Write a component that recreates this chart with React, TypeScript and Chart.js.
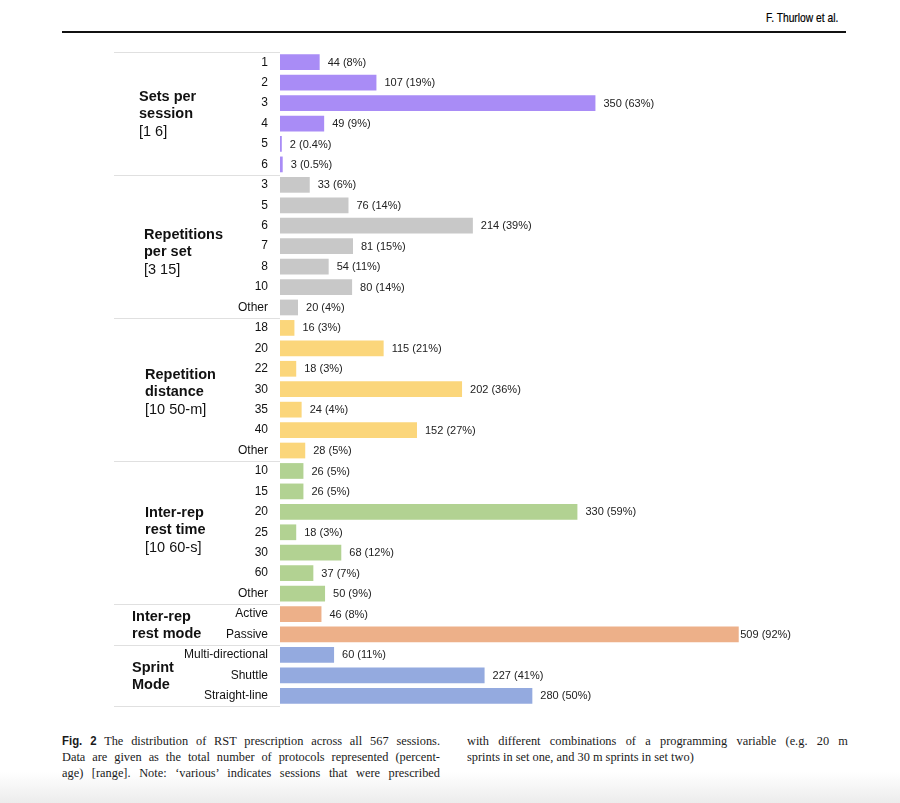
import React, { useEffect, useRef } from "react";
import { Chart, registerables } from "chart.js";

Chart.register(...registerables);

// ---------- data ----------
const groupTitles: string[][] = [
  ["Sets per", "session"],
  ["Repetitions", "per set"],
  ["Repetition", "distance"],
  ["Inter-rep", "rest time"],
  ["Inter-rep", "rest mode"],
  ["Sprint", "Mode"],
];
const groupRanges = ["[1 6]", "[3 15]", "[10 50-m]", "[10 60-s]", "", ""];

const setsLabels = ["1", "2", "3", "4", "5", "6"];
const setsValues = [44, 107, 350, 49, 2, 3];
const setsPct = ["8%", "19%", "63%", "9%", "0.4%", "0.5%"];

const repsLabels = ["3", "5", "6", "7", "8", "10", "Other"];
const repsValues = [33, 76, 214, 81, 54, 80, 20];
const repsPct = ["6%", "14%", "39%", "15%", "11%", "14%", "4%"];

const distLabels = ["18", "20", "22", "30", "35", "40", "Other"];
const distValues = [16, 115, 18, 202, 24, 152, 28];
const distPct = ["3%", "21%", "3%", "36%", "4%", "27%", "5%"];

const restLabels = ["10", "15", "20", "25", "30", "60", "Other"];
const restValues = [26, 26, 330, 18, 68, 37, 50];
const restPct = ["5%", "5%", "59%", "3%", "12%", "7%", "9%"];

const modeLabels = ["Active", "Passive"];
const modeValues = [46, 509];
const modePct = ["8%", "92%"];

const sprintLabels = ["Multi-directional", "Shuttle", "Straight-line"];
const sprintValues = [60, 227, 280];
const sprintPct = ["11%", "41%", "50%"];

const totalSessions = 567;

const groupColors = ["#a98cf6", "#c8c8c8", "#fbd67b", "#b2d292", "#edb089", "#94aadf"];

// ---------- derived ----------
const groupLabelSets = [setsLabels, repsLabels, distLabels, restLabels, modeLabels, sprintLabels];
const groupValueSets = [setsValues, repsValues, distValues, restValues, modeValues, sprintValues];
const groupPctSets = [setsPct, repsPct, distPct, restPct, modePct, sprintPct];
const groupSizes = groupLabelSets.map((g) => g.length);

const allLabels = groupLabelSets.flat();
const allValues = groupValueSets.flat();
const allPct = groupPctSets.flat();
const allColors = groupLabelSets.flatMap((g, gi) => g.map(() => groupColors[gi]));

// layout of group titles
const groupLabelX = [139, 144, 145, 145, 132, 132];
const groupLabelDy = [1, 6, 3, -2, 1, 1];

const FONT = "'Liberation Sans', Arial, sans-serif";

const valueLabelPlugin = {
  id: "valueLabels",
  afterDatasetsDraw(chart: any) {
    const ctx = chart.ctx;
    const area = chart.chartArea;
    const meta = chart.getDatasetMeta(0);
    ctx.save();
    ctx.font = `11px ${FONT}`;
    ctx.fillStyle = "#222";
    ctx.textBaseline = "middle";
    ctx.textAlign = "left";
    meta.data.forEach((bar: any, i: number) => {
      const txt = `${allValues[i]} (${allPct[i]})`;
      const w = ctx.measureText(txt).width;
      let x = bar.x + 8;
      if (x + w > area.right) x = Math.max(bar.x + 1.5, area.right - w);
      ctx.fillText(txt, x, bar.y + 0.5);
    });
    ctx.restore();
  },
};

const groupPlugin = {
  id: "groupLabels",
  afterDraw(chart: any) {
    const ctx = chart.ctx;
    const area = chart.chartArea;
    const y = chart.scales.y;
    const half = (y.getPixelForValue(1) - y.getPixelForValue(0)) / 2;
    ctx.save();
    // separators
    ctx.strokeStyle = "#e0e0e0";
    ctx.lineWidth = 1;
    const bounds: number[] = [y.getPixelForValue(0) - half];
    let idx = 0;
    groupSizes.forEach((n) => {
      idx += n;
      bounds.push(y.getPixelForValue(idx - 1) + half);
    });
    bounds.forEach((b) => {
      const yy = Math.round(b) + 0.5;
      ctx.beginPath();
      ctx.moveTo(114, yy);
      ctx.lineTo(area.left, yy);
      ctx.stroke();
    });
    // group titles
    const lh = 17.5;
    let start = 0;
    groupTitles.forEach((lines, gi) => {
      const n = groupSizes[gi];
      const yTop = y.getPixelForValue(start);
      const yBot = y.getPixelForValue(start + n - 1);
      start += n;
      const all = groupRanges[gi] ? [...lines, groupRanges[gi]] : lines;
      const center = (yTop + yBot) / 2 + groupLabelDy[gi];
      const first = center - ((all.length - 1) * lh) / 2;
      ctx.fillStyle = "#111";
      ctx.textBaseline = "middle";
      ctx.textAlign = "left";
      all.forEach((t, li) => {
        const bold = li < lines.length;
        ctx.font = `${bold ? "bold " : ""}14.5px ${FONT}`;
        ctx.fillText(t, groupLabelX[gi], first + li * lh);
      });
    });
    ctx.restore();
  },
};

function BarChart() {
  const ref = useRef<HTMLCanvasElement | null>(null);
  useEffect(() => {
    if (!ref.current) return;
    const chart = new Chart(ref.current, {
      type: "bar",
      data: {
        labels: allLabels,
        datasets: [
          {
            data: allValues,
            backgroundColor: allColors,
            borderWidth: 0,
            categoryPercentage: 1,
            barPercentage: 0.77,
          },
        ],
      },
      options: {
        indexAxis: "y",
        animation: false,
        responsive: false,
        events: [],
        layout: { padding: { left: 0, right: 109, top: 52, bottom: 24 } },
        scales: {
          x: { display: false, min: 0, max: totalSessions },
          y: {
            grid: { display: false, drawTicks: false },
            border: { display: false },
            ticks: {
              autoSkip: false,
              padding: 12,
              color: "#111",
              font: { family: FONT, size: 12 },
            },
            afterFit(scale: any) {
              scale.width = 280;
            },
          },
        },
        plugins: {
          legend: { display: false },
          tooltip: { enabled: false },
        },
      } as any,
      plugins: [valueLabelPlugin, groupPlugin],
    });
    return () => chart.destroy();
  }, []);
  return (
    <canvas
      ref={ref}
      width={900}
      height={730}
      style={{ position: "absolute", left: 0, top: 0, width: 900, height: 730 }}
    />
  );
}

const serif = "'Liberation Serif', 'Times New Roman', serif";

const lineJ: React.CSSProperties = {
  textAlign: "justify",
  textAlignLast: "justify" as any,
  height: 16,
  whiteSpace: "nowrap",
};

const SCALE = 0.95;
const captionBox = (left: number, w: number): React.CSSProperties => ({
  position: "absolute",
  left,
  top: 733,
  width: w / SCALE,
  fontFamily: serif,
  fontSize: 13,
  lineHeight: "16px",
  transform: `scaleX(${SCALE})`,
  transformOrigin: "0 0",
  color: "#1a1a1a",
});

export default function App() {
  return (
    <div
      style={{
        position: "absolute",
        left: 0,
        top: 0,
        width: 900,
        height: 803,
        background: "#fff",
        overflow: "hidden",
      }}
    >
      <div
        style={{
          position: "absolute",
          left: 0,
          top: 772,
          width: 900,
          height: 31,
          background: "linear-gradient(to bottom, #ffffff, #ececec)",
        }}
      />
      <div
        style={{
          position: "absolute",
          left: 766,
          top: 10,
          fontFamily: FONT,
          fontSize: 13,
          color: "#000",
          whiteSpace: "nowrap",
          transform: "scaleX(0.79)",
          transformOrigin: "0 0",
          WebkitTextStroke: "0.2px #000",
        }}
      >
        F. Thurlow et al.
      </div>
      <div style={{ position: "absolute", left: 62, top: 31, width: 784, height: 2, background: "#111" }} />
      <BarChart />
      <div style={captionBox(62, 378)}>
        <div style={lineJ}>
          <span style={{ fontFamily: FONT, fontWeight: "bold", fontSize: 12 }}>Fig. 2</span> The distribution of
          RST prescription across all 567 sessions.
        </div>
        <div style={lineJ}>Data are given as the total number of protocols represented (percent-</div>
        <div style={lineJ}>age) [range]. Note: ‘various’ indicates sessions that were prescribed</div>
      </div>
      <div style={captionBox(467, 381)}>
        <div style={lineJ}>with different combinations of a programming variable (e.g. 20 m</div>
        <div style={{ height: 16, whiteSpace: "nowrap" }}>sprints in set one, and 30 m sprints in set two)</div>
      </div>
    </div>
  );
}
